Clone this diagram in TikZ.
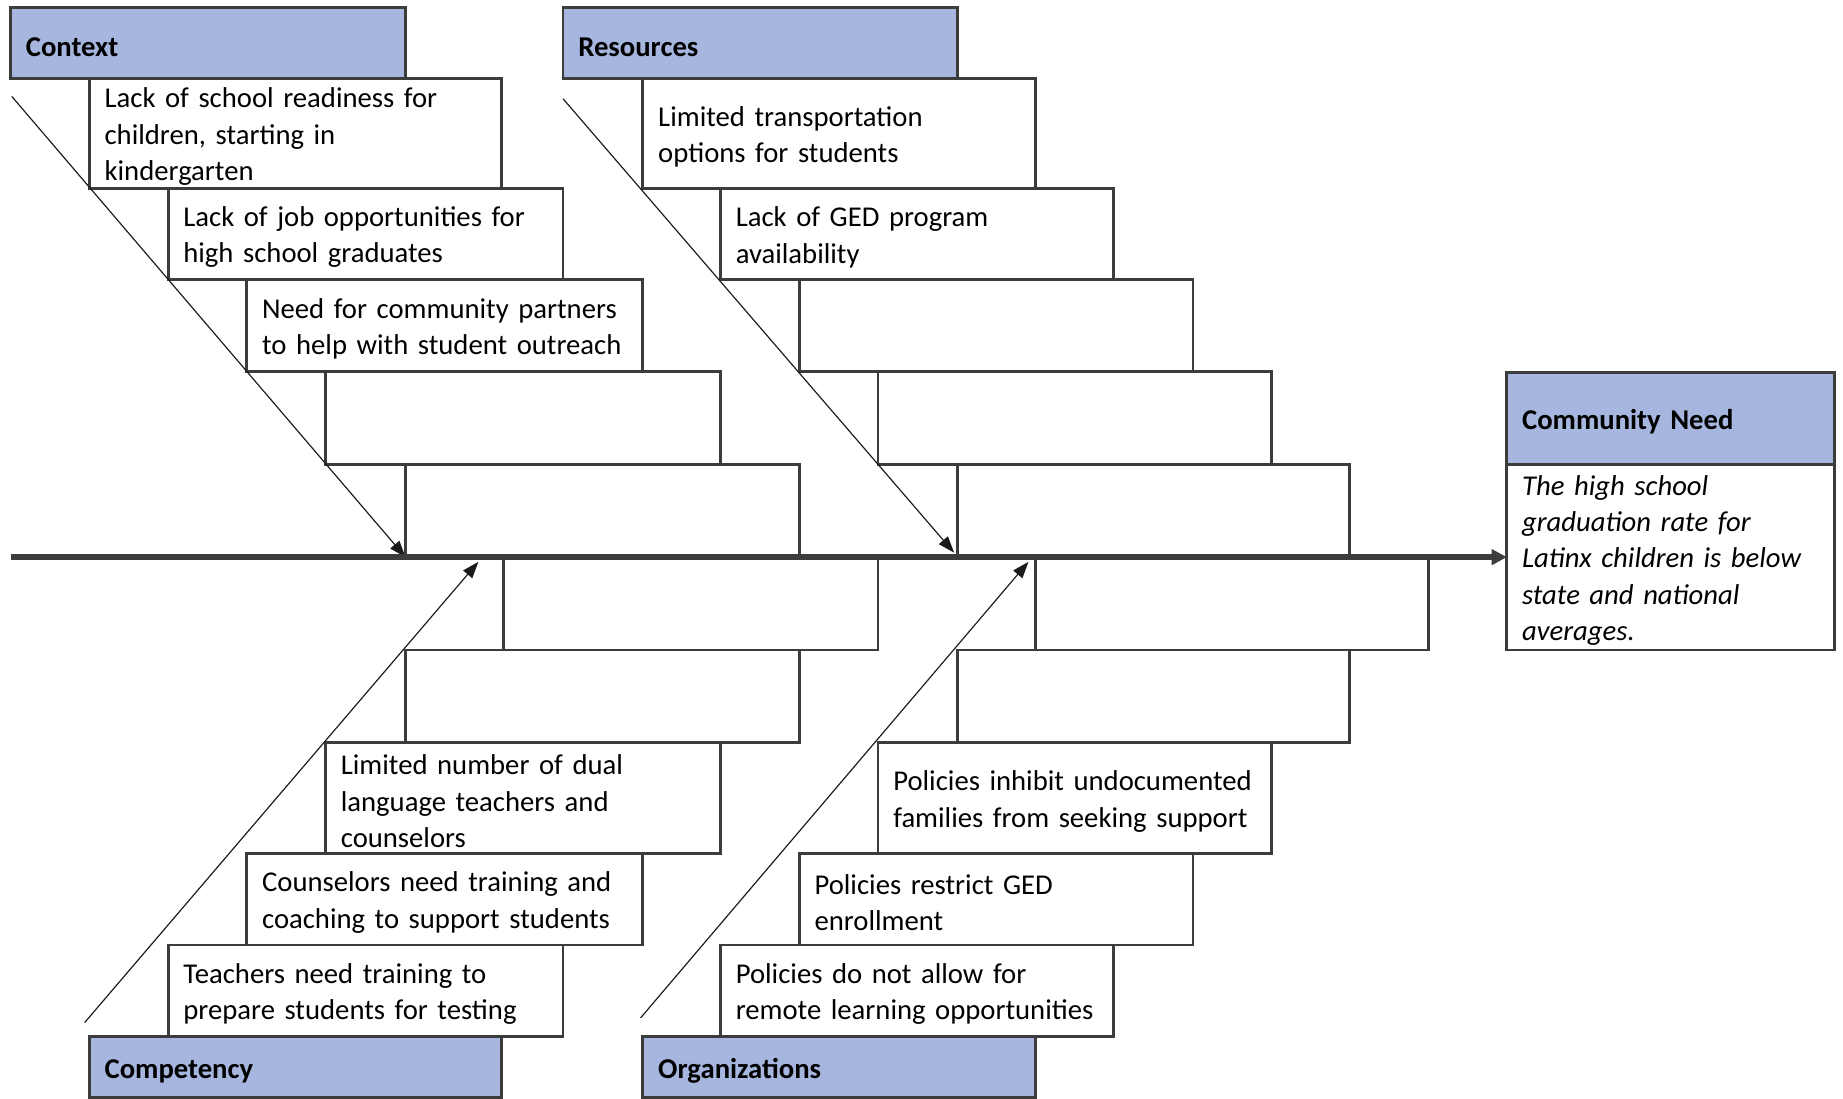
\documentclass[tikz,border=0pt]{standalone}
\usepackage{fontspec}
\setmainfont{Carlito}
\usetikzlibrary{arrows.meta}
\definecolor{headblue}{RGB}{166,182,223}
\definecolor{boxgray}{RGB}{60,60,60}
\definecolor{tipblack}{RGB}{26,26,26}
\tikzset{
  cause/.style={draw=boxgray, line width=2.5pt, fill=white, anchor=north west,
    outer sep=0pt, inner xsep=13pt, inner ysep=0pt, align=left,
    font=\fontsize{24.4}{31}\selectfont,
    execute at begin node={\rule{0pt}{22.5pt}}},
  causehead/.style={cause, fill=headblue, font=\fontsize{24.4}{31}\selectfont\bfseries},
  bone/.style={tipblack, line width=1pt, -{Triangle[length=14pt,width=10pt]}},
  spine/.style={boxgray, line width=5pt, -{Triangle[length=13pt,width=13pt]}},
}

\begin{document}
\begin{tikzpicture}[x=1pt,y=-1pt]
\useasboundingbox (0,0) rectangle (1568,935);

\node[causehead, text width=310, minimum height=61] (ctxhead) at (  9,  6) {Context};
\node[cause,     text width=325, minimum height=93] (ctx1)    at ( 76, 67)
    {Lack of school readiness for\\children, starting in\\kindergarten};
\node[cause,     text width=310, minimum height=78] (ctx2)    at (143,160)
    {Lack of job opportunities for\\high school graduates};
\node[cause,     text width=311, minimum height=78] (ctx3)    at (210,238)
    {Need for community partners\\to help with student outreach};
\node[cause,     text width=310, minimum height=79] (ctx4)    at (277,316) {};
\node[cause,     text width=309, minimum height=79] (ctx5)    at (345,395) {};

\node[causehead, text width=310, minimum height=61] (reshead) at (479,  6) {Resources};
\node[cause,     text width=308, minimum height=93] (res1)    at (547, 67)
    {Limited transportation\\options for students};
\node[cause,     text width=308, minimum height=78] (res2)    at (613,160)
    {Lack of GED program\\availability};
\node[cause,     text width=309, minimum height=78] (res3)    at (680,238) {};
\node[cause,     text width=309, minimum height=79] (res4)    at (747,316) {};
\node[cause,     text width=307, minimum height=79] (res5)    at (815,395) {};

\node[cause,     text width=293, minimum height=79] (cmp1)    at (428,474) {};
\node[cause,     text width=309, minimum height=79] (cmp2)    at (345,553) {};
\node[cause,     text width=310, minimum height=94] (cmp3)    at (277,632)
    {Limited number of dual\\language teachers and\\counselors};
\node[cause,     text width=311, minimum height=78] (cmp4)    at (210,726)
    {Counselors need training and\\coaching to support students};
\node[cause,     text width=310, minimum height=78] (cmp5)    at (143,804)
    {Teachers need training to\\prepare students for testing};
\node[causehead, text width=325, minimum height=52] (cmphead) at ( 76,882) {Competency};

\node[cause,     text width=308, minimum height=79] (org1)    at (881,474) {};
\node[cause,     text width=307, minimum height=79] (org2)    at (815,553) {};
\node[cause,     text width=309, minimum height=94] (org3)    at (747,632)
    {Policies inhibit undocumented\\families from seeking support};
\node[cause,     text width=309, minimum height=78] (org4)    at (680,726)
    {Policies restrict GED\\enrollment};
\node[cause,     text width=308, minimum height=78] (org5)    at (613,804)
    {Policies do not allow for\\remote learning opportunities};
\node[causehead, text width=308, minimum height=52] (orghead) at (547,882) {Organizations};

\node[causehead, text width=253, minimum height=78]  (needhead) at (1282,317) {Community Need};
\node[cause,     text width=253, minimum height=158] (needbody) at (1282,395)
    {\itshape The high school\\graduation rate for\\Latinx children is below\\state and national\\averages.};

\coordinate (spinetail) at (  9,474);
\coordinate (ctxtail)   at ( 10, 82);
\coordinate (restail)   at (479, 84);
\coordinate (cmptail)   at ( 72,870);
\coordinate (cmptip)    at (407,478);
\coordinate (orgtail)   at (545,866);
\coordinate (orgtip)    at (875,478);

\draw[bone] (ctxtail) -- (ctx5.south west);
\draw[bone, shorten >=5pt] (restail) -- (res5.south west);
\draw[bone] (cmptail) -- (cmptip);
\draw[bone] (orgtail) -- (orgtip);
\draw[spine] (spinetail) -- (needbody.west);
\end{tikzpicture}
\end{document}
